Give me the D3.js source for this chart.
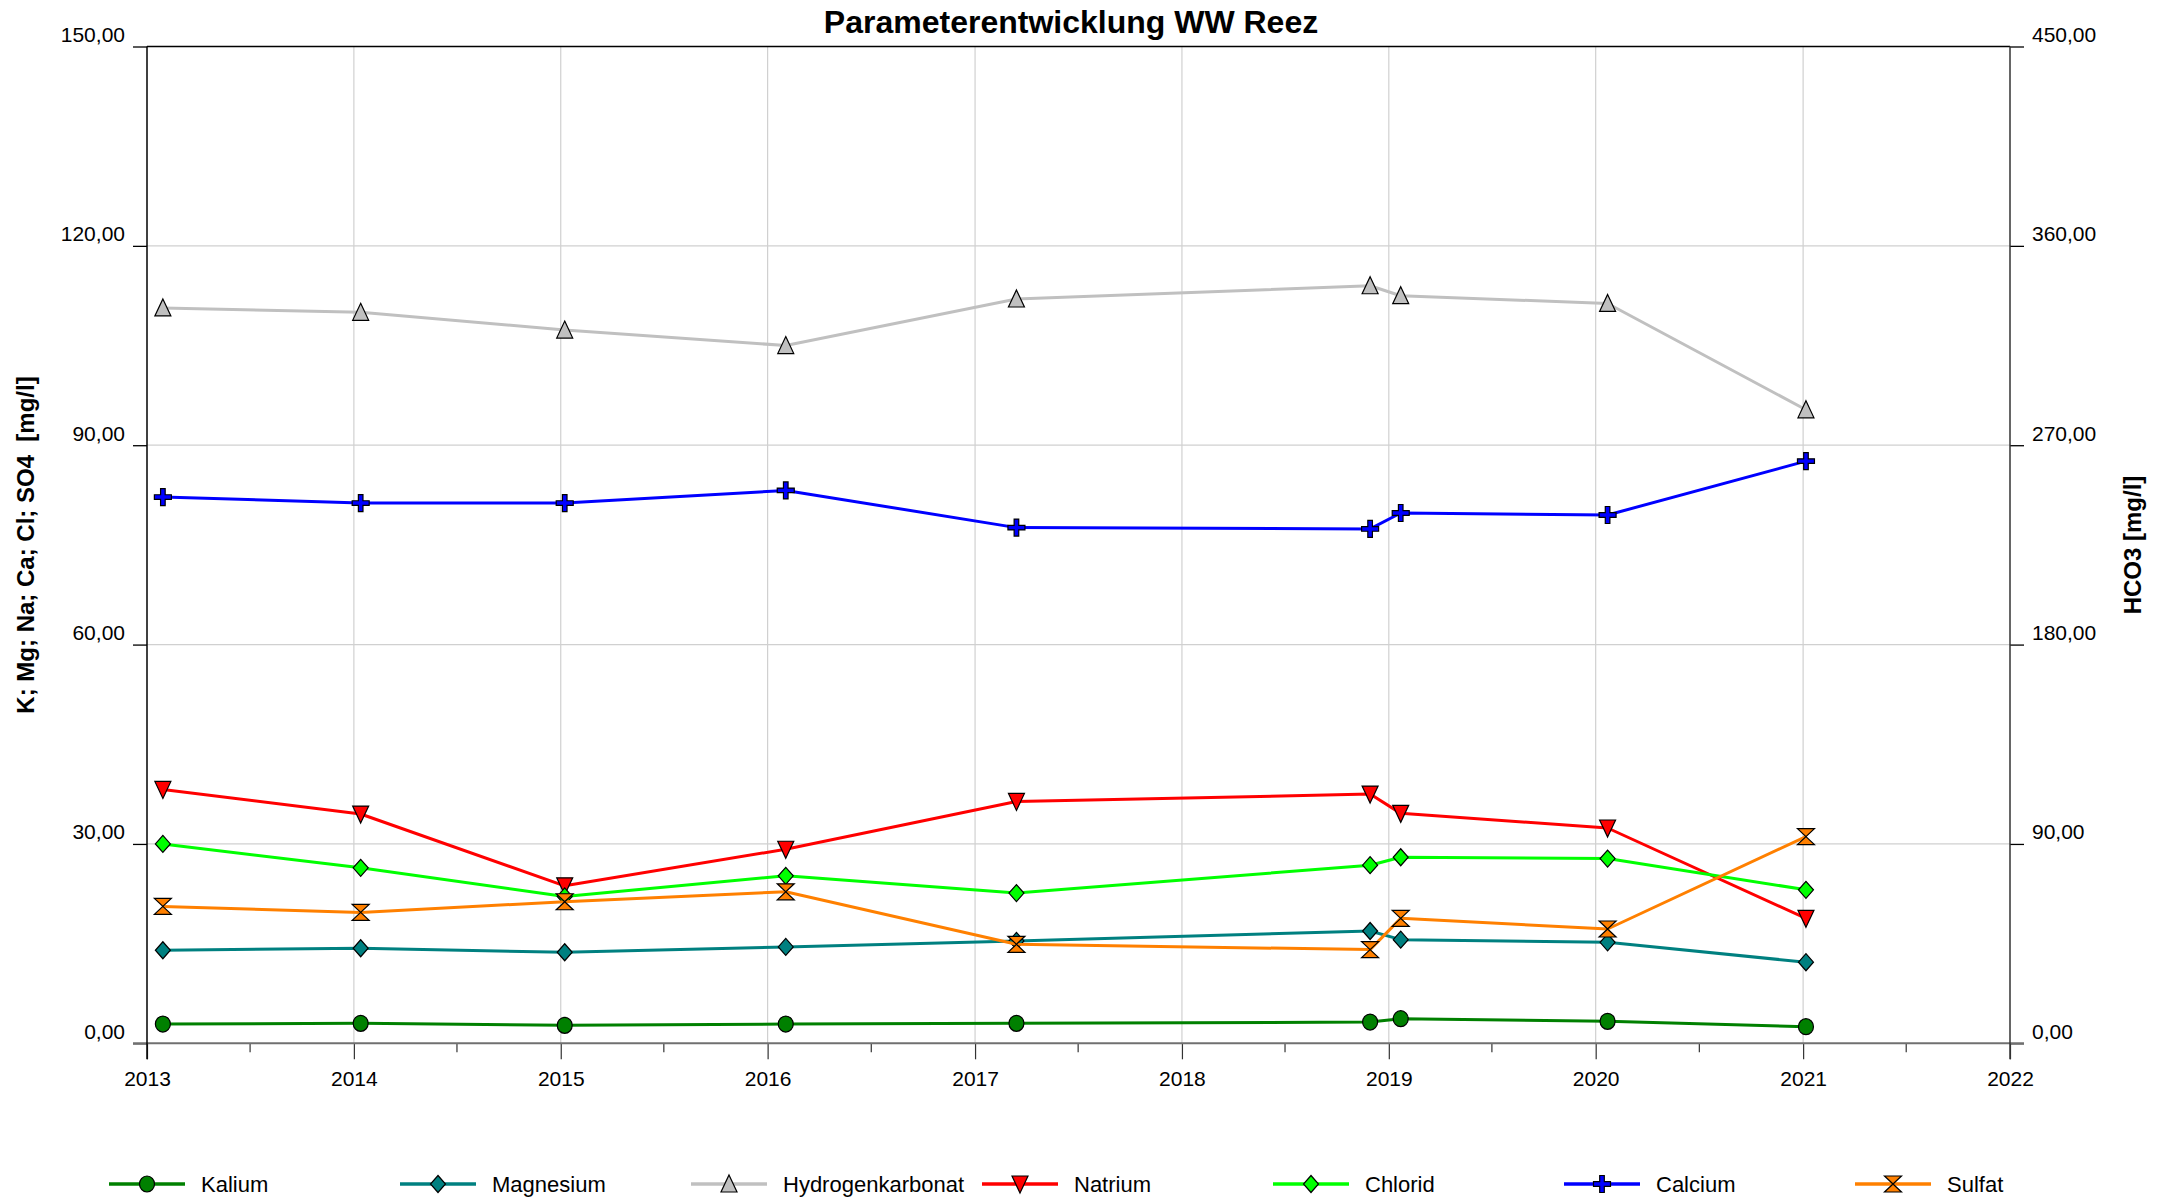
<!DOCTYPE html>
<html>
<head>
<meta charset="utf-8">
<script src="https://cdn.jsdelivr.net/npm/d3@7"></script>
<style>
body{margin:0;background:#fff;}
text{font-family:"Liberation Sans",Arial,sans-serif;fill:#000;}
</style>
</head>
<body>
<svg id="chart" width="2160" height="1199"></svg>
<script>

var sampleDates = ["2013-01-29","2014-01-13","2015-01-08","2016-02-02","2017-03-15","2018-11-29","2019-01-22","2020-01-22","2021-01-06"];
var kalium = [2.9,3.0,2.7,2.9,3.0,3.2,3.7,3.3,2.5];
var magnesium = [14.0,14.3,13.7,14.5,15.4,16.9,15.6,15.2,12.2];
var hydrogenkarbonat = [332,330,322,315,336,342,337.5,334,286];
var natrium = [38.2,34.5,23.7,29.2,36.4,37.5,34.6,32.4,18.8];
var chlorid = [30.0,26.4,22.1,25.2,22.6,26.8,28.0,27.8,23.1];
var calcium = [82.2,81.3,81.3,83.2,77.6,77.4,79.8,79.5,87.6];
var sulfat = [20.6,19.7,21.3,22.8,14.9,14.1,18.8,17.2,31.1];

var seriesNames = ["Kalium","Magnesium","Hydrogenkarbonat","Natrium","Chlorid","Calcium","Sulfat"];
var leftTicks = [0,30,60,90,120,150];
var rightTicks = [0,90,180,270,360,450];
var xRange = ["2013-01-01","2022-01-01"];

var titleText = "Parameterentwicklung WW Reez";
var leftTitle = "K; Mg; Na; Ca; Cl; SO4  [mg/l]";
var rightTitle = "HCO3 [mg/l]";


var parse = d3.timeParse("%Y-%m-%d");
var de = d3.formatLocale({decimal:",",thousands:".",grouping:[3],currency:["","€"]});
var fmt = de.format(".2f");

var svg = d3.select("#chart");
var L = 147, R = 2010, T = 46.5, B = 1043.3;

var x = d3.scaleTime().domain(xRange.map(parse)).range([L,R]);
var yL = d3.scaleLinear().domain([0,150]).range([B,T]);
var yR = d3.scaleLinear().domain([0,450]).range([B,T]);

// marker shapes
function markerPath(type){
	switch(type){
		case "circle":    return "M-7.5,0A7.5,8 0 1,0 7.5,0A7.5,8 0 1,0 -7.5,0Z";
		case "diamond":   return "M0,-8.5L7.5,0L0,8.5L-7.5,0Z";
		case "triUp":     return "M0,-9L8,8L-8,8Z";
		case "triDown":   return "M0,9L8,-8L-8,-8Z";
		case "plus":      return "M-2.3,-8.5H2.3V-2.3H8.5V2.3H2.3V8.5H-2.3V2.3H-8.5V-2.3H-2.3Z";
		case "hourglass": return "M-8.5,-8H8.5L-8.5,8H8.5Z";
	}
}

var series = [
	{name:seriesNames[0], vals:kalium,           color:"#008000", fill:"#008000", mark:"circle",    y:yL},
	{name:seriesNames[1], vals:magnesium,        color:"#008080", fill:"#008080", mark:"diamond",   y:yL},
	{name:seriesNames[2], vals:hydrogenkarbonat, color:"#c0c0c0", fill:"#c0c0c0", mark:"triUp",     y:yR},
	{name:seriesNames[3], vals:natrium,          color:"#ff0000", fill:"#ff0000", mark:"triDown",   y:yL},
	{name:seriesNames[4], vals:chlorid,          color:"#00ff00", fill:"#00ff00", mark:"diamond",   y:yL},
	{name:seriesNames[5], vals:calcium,          color:"#0000ff", fill:"#0000ff", mark:"plus",      y:yL},
	{name:seriesNames[6], vals:sulfat,           color:"#ff8000", fill:"#ff8000", mark:"hourglass", y:yL}
];

// grid
var grid = svg.append("g").attr("class","grid");
grid.selectAll("line.gx")
	.data(x.ticks(d3.timeYear.every(1)).slice(1,-1))
	.enter().append("line").attr("class","gx")
	.attr("x1",function(d){return x(d)}).attr("x2",function(d){return x(d)})
	.attr("y1",T).attr("y2",B)
	.style("stroke","#d0d0d0").style("stroke-width",1.2);
grid.selectAll("line.gy")
	.data(leftTicks.slice(1,-1))
	.enter().append("line").attr("class","gy")
	.attr("x1",L).attr("x2",R)
	.attr("y1",function(d){return yL(d)}).attr("y2",function(d){return yL(d)})
	.style("stroke","#d0d0d0").style("stroke-width",1.2);

// left axis
var axL = svg.append("g").attr("transform","translate("+L+",0)")
	.call(d3.axisLeft(yL).tickValues(leftTicks).tickSize(14).tickFormat(fmt));
axL.select(".domain").remove();
axL.selectAll("line").style("stroke","#000").style("stroke-width",1.3);
axL.selectAll("text").attr("x",-22).attr("y",-5).attr("dy",0)
	.style("font-size","21px").style("font-family","Liberation Sans, Arial, sans-serif");

// right axis
var axR = svg.append("g").attr("transform","translate("+R+",0)")
	.call(d3.axisRight(yR).tickValues(rightTicks).tickSize(14).tickFormat(fmt));
axR.select(".domain").remove();
axR.selectAll("line").style("stroke","#000").style("stroke-width",1.3);
axR.selectAll("text").attr("x",22).attr("y",-5).attr("dy",0)
	.style("font-size","21px").style("font-family","Liberation Sans, Arial, sans-serif");

// bottom axis, years + half-year minor ticks
var axB = svg.append("g").attr("transform","translate(0,"+B+")")
	.call(d3.axisBottom(x).ticks(d3.timeYear.every(1)).tickSize(16).tickPadding(12).tickFormat(d3.timeFormat("%Y")));
axB.select(".domain").remove();
axB.selectAll("line").style("stroke","#333").style("stroke-width",1.2);
axB.selectAll("text").style("font-size","21px").style("font-family","Liberation Sans, Arial, sans-serif");

var minor = svg.append("g").attr("transform","translate(0,"+B+")")
	.call(d3.axisBottom(x).tickValues(d3.timeMonth.range(parse("2013-07-01"),parse("2022-01-01"),12)).tickSize(9).tickFormat(""));
minor.select(".domain").remove();
minor.selectAll("line").style("stroke","#333").style("stroke-width",1.2);

// frame lines
svg.append("line").attr("x1",L-14).attr("x2",R+14).attr("y1",B).attr("y2",B)
	.style("stroke","#707070").style("stroke-width",2);
svg.append("line").attr("x1",L).attr("x2",R).attr("y1",T).attr("y2",T)
	.style("stroke","#000").style("stroke-width",1.5);
svg.append("line").attr("x1",L).attr("x2",L).attr("y1",T).attr("y2",B+16)
	.style("stroke","#000").style("stroke-width",1.5);
svg.append("line").attr("x1",R).attr("x2",R).attr("y1",T).attr("y2",B+16)
	.style("stroke","#333").style("stroke-width",1.5);

// series
var dates = sampleDates.map(parse);
for (var s of series){
	var pts = s.vals.map(function(v,i){ return {date:dates[i], v:v}; });
	var yy = s.y;
	var g = svg.append("g").attr("class","series");
	g.append("path").datum(pts)
		.attr("d", d3.line()
			.x(function(d){ return x(d.date) })
			.y(function(d){ return yy(d.v) }))
		.style("fill","none").style("stroke",s.color).style("stroke-width",3)
		.style("stroke-linejoin","round");
	g.selectAll("path.m").data(pts).enter().append("path").attr("class","m")
		.attr("transform",function(d){ return "translate("+x(d.date)+","+yy(d.v)+")" })
		.attr("d",markerPath(s.mark))
		.style("fill",s.fill).style("stroke","#000").style("stroke-width",1.2)
		.style("stroke-linejoin","miter");
}

// titles
svg.append("text").attr("x",1071).attr("y",33).attr("text-anchor","middle")
	.style("font-size","32px").style("font-weight","bold").text(titleText);
svg.append("text").attr("transform","translate(34,545) rotate(-90)").attr("text-anchor","middle")
	.style("font-size","24px").style("font-weight","bold").style("white-space","pre").text(leftTitle);
svg.append("text").attr("transform","translate(2141,545) rotate(-90)").attr("text-anchor","middle")
	.style("font-size","24px").style("font-weight","bold").text(rightTitle);

// legend
var leg = svg.append("g").attr("class","legend");
series.forEach(function(s,i){
	var x0 = 109 + i*291, ly = 1184;
	var it = leg.append("g").attr("transform","translate("+x0+","+ly+")");
	it.append("line").attr("x1",0).attr("x2",76).attr("y1",0).attr("y2",0)
		.style("stroke",s.color).style("stroke-width",3.5);
	it.append("path").attr("transform","translate(38,0)").attr("d",markerPath(s.mark))
		.style("fill",s.fill).style("stroke","#000").style("stroke-width",1.2);
	it.append("text").attr("x",92).attr("y",0).attr("dy","0.35em")
		.style("font-size","22px").text(s.name);
});

</script>
</body>
</html>
